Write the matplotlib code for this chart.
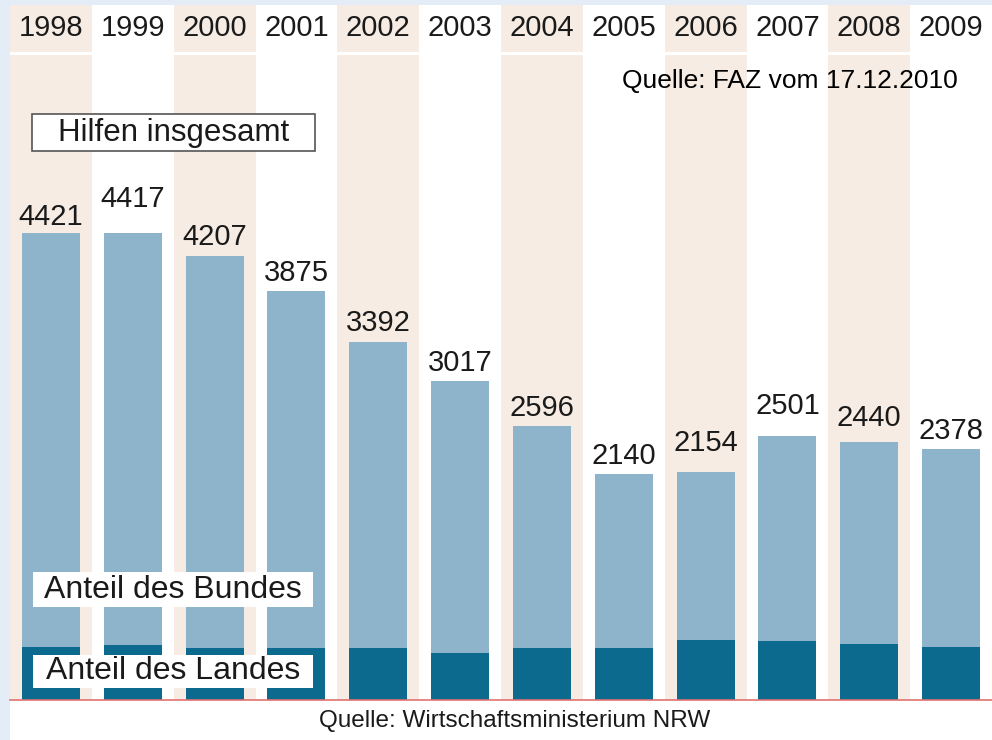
import matplotlib
matplotlib.use('Agg')
import matplotlib.pyplot as plt
from matplotlib.patches import Rectangle
import numpy as np

plt.rcParams.update({'font.family': ['Liberation Sans', 'DejaVu Sans']})

#%% data

years = ['1998', '1999', '2000', '2001', '2002', '2003',
         '2004', '2005', '2006', '2007', '2008', '2009']
total = [4421, 4417, 4207, 3875, 3392, 3017, 2596, 2140, 2154, 2501, 2440, 2378]
land = [505, 520, 490, 490, 490, 445, 490, 490, 570, 560, 530, 505]

# label gap above the bar top, in pixels (the original is not uniform)
label_gap = [8, 26, 11, 10, 11, 10, 10, 10, 21, 22, 16, 10]

c_light = '#8eb4cc'
c_dark = '#0b6a8e'
c_beige = '#f6ece4'
c_bg = '#e4ecf8'
c_red = '#e07272'

W, H = 992, 740

def fx(px):
    return px / W

def fy(py):
    # py measured from the top of the picture
    return 1 - py / H

#%% figure

fig = plt.figure(figsize=(W / 100, H / 100), dpi=100, facecolor=c_bg)
fig.patches.append(Rectangle((fx(10), 0), 1 - fx(10), fy(5), transform=fig.transFigure,
                             facecolor='white', edgecolor='none', zorder=-1))

xx = np.arange(len(years))

# header with the years
axh = fig.add_axes([fx(10), fy(52), 1 - fx(10), (52 - 5) / H], zorder=1)
axh.set_xlim(-0.5, len(years) - 0.5)
axh.set_ylim(0, 1)
axh.axis('off')
for i, yr in enumerate(years):
    if i % 2 == 0:
        axh.axvspan(i - 0.5, i + 0.5, color=c_beige, lw=0)
    axh.text(i, 0.5, yr, ha='center', va='center', fontsize=21, color='#1a1a1a')

# main bar panel
ax = fig.add_axes([fx(10), fy(700), 1 - fx(10), (700 - 55) / H], zorder=1)
ax.set_xlim(-0.5, len(years) - 0.5)
ax.set_ylim(0, 645 / 467 * total[0])
ax.axis('off')
for i in xx:
    if i % 2 == 0:
        ax.axvspan(i - 0.5, i + 0.5, color=c_beige, lw=0, zorder=0)

ax.bar(xx, total, width=0.71, color=c_light, zorder=2)
ax.bar(xx, land, width=0.71, color=c_dark, zorder=3)
ax.axhline(0, color=c_red, lw=1.2, zorder=4, clip_on=False)

for i in xx:
    ax.annotate(str(total[i]), (i, total[i]), xytext=(0, label_gap[i] * 0.72),
                textcoords='offset points', ha='center', va='baseline',
                fontsize=21, color='#1a1a1a', zorder=5)

#%% labels and boxes

fig.patches.append(Rectangle((fx(32), fy(151)), fx(315 - 32), (151 - 114) / H,
                             transform=fig.transFigure, facecolor='white',
                             edgecolor='#555555', lw=1.2, zorder=6))
fig.text(fx(174), fy(133), 'Hilfen insgesamt', ha='center', va='center',
         fontsize=22.5, color='#1a1a1a', zorder=7)

fig.patches.append(Rectangle((fx(33), fy(607)), fx(313 - 33), (607 - 572) / H,
                             transform=fig.transFigure, facecolor='white',
                             edgecolor='none', zorder=6))
fig.text(fx(173), fy(590), 'Anteil des Bundes', ha='center', va='center',
         fontsize=23, color='#1a1a1a', zorder=7)

fig.patches.append(Rectangle((fx(33), fy(688)), fx(313 - 33), (688 - 655) / H,
                             transform=fig.transFigure, facecolor='white',
                             edgecolor='none', zorder=6))
fig.text(fx(173), fy(671), 'Anteil des Landes', ha='center', va='center',
         fontsize=23, color='#1a1a1a', zorder=7)

fig.text(fx(790), fy(81), 'Quelle: FAZ vom 17.12.2010', ha='center', va='center',
         fontsize=19, color='black', zorder=7)
fig.text(fx(515), fy(721), 'Quelle: Wirtschaftsministerium NRW', ha='center', va='center',
         fontsize=17.5, color='#1a1a1a', zorder=7)

fig.savefig('out.png', dpi=100, facecolor=c_bg)
